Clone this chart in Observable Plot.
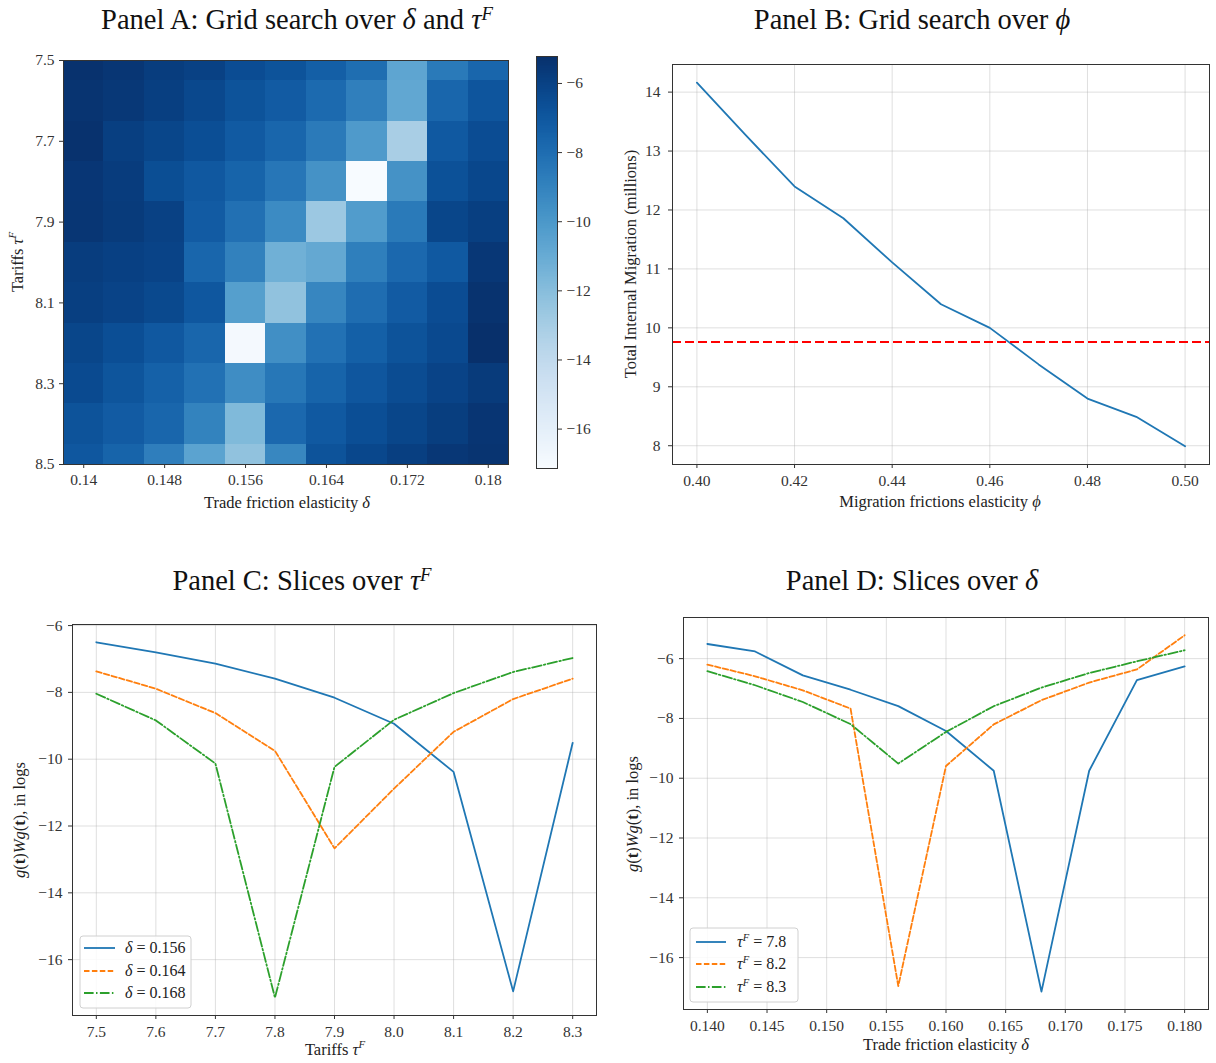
<!DOCTYPE html>
<html><head><meta charset="utf-8">
<script src="https://cdn.jsdelivr.net/npm/d3@7"></script>
<script src="https://cdn.jsdelivr.net/npm/@observablehq/plot@0.6"></script>
<style>
body{margin:0;background:#fff;}
#root{position:relative;width:1216px;height:1063px;overflow:hidden;font-family:"Liberation Serif",serif;}
#root svg{position:absolute;}
</style></head><body><div id="root"></div>
<script>
// ---------- data ----------
const deltaGrid = [0.140,0.144,0.148,0.152,0.156,0.160,0.164,0.168,0.172,0.176,0.180];
const tauGrid = [7.5,7.6,7.7,7.8,7.9,8.0,8.1,8.2,8.3,8.4,8.5];
const row7_5 = [-5.30,-5.50,-5.80,-6.00,-6.50,-6.80,-7.37,-8.04,-10.70,-8.60,-7.70];
const row7_6 = [-5.40,-5.60,-5.90,-6.30,-6.80,-7.20,-7.89,-8.84,-10.80,-7.70,-6.90];
const row7_7 = [-5.30,-5.90,-6.20,-6.60,-7.14,-7.70,-8.62,-10.13,-13.10,-7.10,-6.50];
const row7_8 = [-5.51,-5.76,-6.56,-7.04,-7.59,-8.42,-9.75,-17.14,-9.75,-6.72,-6.26];
const row7_9 = [-5.50,-5.70,-6.00,-7.20,-8.16,-9.40,-12.67,-10.23,-8.60,-6.20,-5.90];
const row8_0 = [-5.80,-5.95,-6.10,-7.70,-8.94,-11.30,-10.88,-8.82,-7.80,-7.10,-5.55];
const row8_1 = [-5.90,-6.10,-6.35,-7.00,-10.38,-12.30,-9.18,-8.02,-7.20,-6.50,-5.35];
const row8_2 = [-6.20,-6.59,-7.06,-7.67,-16.95,-9.59,-8.20,-7.39,-6.80,-6.36,-5.22];
const row8_3 = [-6.42,-6.89,-7.45,-8.19,-9.51,-8.45,-7.59,-6.97,-6.48,-6.09,-5.72];
const row8_4 = [-6.80,-7.20,-7.70,-9.00,-11.80,-7.80,-7.10,-6.60,-6.20,-5.85,-5.45];
const row8_5 = [-7.00,-7.60,-8.80,-10.60,-12.30,-9.20,-6.80,-6.25,-5.90,-5.55,-5.40];
const gridRows = [row7_5,row7_6,row7_7,row7_8,row7_9,row8_0,row8_1,row8_2,row8_3,row8_4,row8_5];
const xTicksA = [0.14,0.148,0.156,0.164,0.172,0.18];
const yTicksA = [7.5,7.7,7.9,8.1,8.3,8.5];
const colorbarTicks = [-16,-14,-12,-10,-8,-6];

const phiValues = [0.40,0.41,0.42,0.43,0.44,0.45,0.46,0.47,0.48,0.49,0.50];
const migration = [14.16,13.27,12.40,11.86,11.11,10.40,10.00,9.38,8.80,8.49,7.99];
const migrationTarget = 9.76;
const xTicksB = [0.40,0.42,0.44,0.46,0.48,0.50];
const yTicksB = [8,9,10,11,12,13,14];

const tauSlice = [7.5,7.6,7.7,7.8,7.9,8.0,8.1,8.2,8.3];
const deltaSlices = [0.156,0.164,0.168];
const tauSlices = [7.8,8.2,8.3];
const yTicksCD = [-16,-14,-12,-10,-8,-6];
const xTicksD = [0.140,0.145,0.150,0.155,0.160,0.165,0.170,0.175,0.180];
const seriesColors = ["#1f77b4","#ff7f0e","#2ca02c"];
const seriesDash = [null,"5.5,2.4","9.6,2.4,1.5,2.4"];

// ---------- helpers ----------
const fmtMinus = d => (d < 0 ? "\u2212" : "") + Math.abs(d);
const pad = e => [e[0] - 0.05*(e[1]-e[0]), e[1] + 0.05*(e[1]-e[0])];
const near = (a,b) => Math.abs(a-b) < 1e-9;
const baseStyle = {fontFamily:'"Liberation Serif", serif', fontSize:"15.5px", color:"#333", background:"transparent", overflow:"visible"};
const gridStyle = {stroke:"#b0b0b0", strokeOpacity:0.4, strokeWidth:1};
const root = document.getElementById("root");
function place(svg, left, top){ svg.style.left = left+"px"; svg.style.top = top+"px"; root.appendChild(svg); }

// ---------- Panel A ----------
const cells = tauGrid.flatMap((tau,i) => deltaGrid.map((delta,j) => ({tau, delta, value: gridRows[i][j]})));
const hx = (deltaGrid[1]-deltaGrid[0])/2, hy = (tauGrid[1]-tauGrid[0])/2;
const vExt = d3.extent(cells, d => d.value);
const colorOpt = {type:"linear", scheme:"blues", domain: vExt};
const plotA = Plot.plot({
  width:520, height:470, marginLeft:63, marginRight:12, marginTop:20, marginBottom:46,
  style: baseStyle,
  x:{domain:[deltaGrid[0]-hx, deltaGrid[deltaGrid.length-1]+hx]},
  y:{domain:[tauGrid[0], tauGrid[tauGrid.length-1]], reverse:true, clamp:true},
  color: colorOpt,
  marks:[
    Plot.rect(cells,{x1:d=>d.delta-hx, x2:d=>d.delta+hx, y1:d=>d.tau-hy, y2:d=>d.tau+hy, fill:"value", shapeRendering:"crispEdges"}),
    Plot.frame({stroke:"#333"}),
    Plot.axisX({ticks:xTicksA, tickFormat:d=>String(+d.toFixed(3)), tickSize:4, tickPadding:5, label:null}),
    Plot.axisY({ticks:yTicksA, tickFormat:d=>d.toFixed(1), tickSize:4, tickPadding:5, label:null})
  ]
});
place(plotA, 0, 40);

const rampN = 240;
const ramp = d3.range(rampN).map(i => ({v0: vExt[0]+(vExt[1]-vExt[0])*i/rampN, v1: vExt[0]+(vExt[1]-vExt[0])*(i+1)/rampN}));
const plotCB = Plot.plot({
  width:80, height:470, marginLeft:16, marginRight:43, marginTop:16, marginBottom:42,
  style: baseStyle,
  x:{domain:[0,1], axis:null}, y:{domain:vExt}, color: colorOpt,
  marks:[
    Plot.rect(ramp,{x1:0, x2:1, y1:"v0", y2:"v1", fill:d=>(d.v0+d.v1)/2, shapeRendering:"crispEdges"}),
    Plot.frame({stroke:"#333"}),
    Plot.axisY({anchor:"right", ticks:colorbarTicks, tickFormat:fmtMinus, tickSize:4, tickPadding:5, label:null})
  ]
});
place(plotCB, 520, 40);

// ---------- Panel B ----------
const dataB = phiValues.map((p,i)=>({phi:p, m:migration[i]}));
const plotB = Plot.plot({
  width:616, height:480, marginLeft:72, marginRight:7, marginTop:24, marginBottom:56,
  style: baseStyle,
  x:{domain:pad(d3.extent(phiValues))}, y:{domain:pad(d3.extent(migration))},
  marks:[
    Plot.gridX(xTicksB, gridStyle),
    Plot.gridY(yTicksB, gridStyle),
    Plot.line(dataB,{x:"phi", y:"m", stroke:seriesColors[0], strokeWidth:1.8}),
    Plot.ruleY([migrationTarget],{stroke:"red", strokeWidth:1.8, strokeDasharray:"9,4"}),
    Plot.frame({stroke:"#333"}),
    Plot.axisX({ticks:xTicksB, tickFormat:d=>d.toFixed(2), tickSize:4, tickPadding:6, label:null}),
    Plot.axisY({ticks:yTicksB, tickFormat:fmtMinus, tickSize:4, tickPadding:8, label:null})
  ]
});
place(plotB, 600, 40);

// ---------- Panel C ----------
const dataC = deltaSlices.flatMap((dl,k) => {
  const col = deltaGrid.findIndex(v => near(v, dl));
  return tauSlice.map((tau,i) => ({tau, value: gridRows[i][col], k}));
});
const plotC = Plot.plot({
  width:610, height:463, marginLeft:72, marginRight:14, marginTop:24, marginBottom:48,
  style: baseStyle,
  x:{domain:pad(d3.extent(tauSlice))}, y:{domain:pad(d3.extent(dataC, d=>d.value))},
  marks:[
    Plot.gridX(tauSlice, gridStyle),
    Plot.gridY(yTicksCD, gridStyle),
    ...deltaSlices.map((dl,k) => Plot.line(dataC.filter(d=>d.k===k),{x:"tau", y:"value", stroke:seriesColors[k], strokeWidth:1.8, strokeDasharray:seriesDash[k]})),
    Plot.frame({stroke:"#333"}),
    Plot.axisX({ticks:tauSlice, tickFormat:d=>d.toFixed(1), tickSize:4, tickPadding:6, label:null}),
    Plot.axisY({ticks:yTicksCD, tickFormat:fmtMinus, tickSize:4, tickPadding:6, label:null})
  ]
});
place(plotC, 0, 600);

// ---------- Panel D ----------
const dataD = tauSlices.flatMap((tf,k) => {
  const row = tauGrid.findIndex(v => near(v, tf));
  return deltaGrid.map((delta,j) => ({delta, value: gridRows[row][j], k}));
});
const plotD = Plot.plot({
  width:606, height:463, marginLeft:73, marginRight:8, marginTop:17, marginBottom:54,
  style: baseStyle,
  x:{domain:pad(d3.extent(deltaGrid))}, y:{domain:pad(d3.extent(dataD, d=>d.value))},
  marks:[
    Plot.gridX(xTicksD, gridStyle),
    Plot.gridY(yTicksCD, gridStyle),
    ...tauSlices.map((tf,k) => Plot.line(dataD.filter(d=>d.k===k),{x:"delta", y:"value", stroke:seriesColors[k], strokeWidth:1.8, strokeDasharray:seriesDash[k]})),
    Plot.frame({stroke:"#333"}),
    Plot.axisX({ticks:xTicksD, tickFormat:d=>d.toFixed(3), tickSize:4, tickPadding:6, label:null}),
    Plot.axisY({ticks:yTicksCD, tickFormat:fmtMinus, tickSize:4, tickPadding:6, label:null})
  ]
});
place(plotD, 610, 600);

// ---------- titles, axis labels, legends ----------
const I = s => `<tspan font-style="italic">${s}</tspan>`;
const B = s => `<tspan font-weight="bold">${s}</tspan>`;
const tauF = (sz, k=0.4) => `${I("τ")}<tspan dy="${-sz*k}" font-size="${sz*0.66}" font-style="italic">F</tspan>`;
const gLabel = `${I("g")}(${B("t")})${I("W")}${I("g")}(${B("t")}), in logs`;
const LS = 16; // legend font size
function legend(x, y, w, h, x0, x1, tx, ys, labels){
  let s = `<rect x="${x}" y="${y}" width="${w}" height="${h}" rx="3" fill="#fff" fill-opacity="0.85" stroke="#d0d0d0"/>`;
  labels.forEach((lab,k) => {
    s += `<line x1="${x0}" x2="${x1}" y1="${ys[k]}" y2="${ys[k]}" stroke="${seriesColors[k]}" stroke-width="1.8" ${seriesDash[k]?`stroke-dasharray="${seriesDash[k]}"`:""}/>`;
    s += `<text x="${tx}" y="${ys[k]+5}" font-size="${LS}" fill="#222">${lab}</text>`;
  });
  return s;
}
const TS = 28.5, AS = 16.5;
const ov = `
<svg width="1216" height="1063" xmlns="http://www.w3.org/2000/svg" style="left:0;top:0;font-family:'Liberation Serif',serif;pointer-events:none">
 <g font-size="${TS}" fill="#111" text-anchor="middle">
  <text x="297" y="29">Panel A: Grid search over ${I("δ")} and ${tauF(TS,0.32)}</text>
  <text x="912" y="29">Panel B: Grid search over ${I("ϕ")}</text>
  <text x="302" y="590">Panel C: Slices over ${tauF(TS,0.32)}</text>
  <text x="912" y="590">Panel D: Slices over ${I("δ")}</text>
 </g>
 <g font-size="${AS}" fill="#222" text-anchor="middle">
  <text x="287" y="508">Trade friction elasticity ${I("δ")}</text>
  <text transform="translate(23,262) rotate(-90)">Tariffs ${tauF(AS)}</text>
  <text x="940" y="507">Migration frictions elasticity ${I("ϕ")}</text>
  <text transform="translate(636,264) rotate(-90)">Total Internal Migration (millions)</text>
  <text x="335" y="1055">Tariffs ${tauF(AS)}</text>
  <text transform="translate(25,820) rotate(-90)">${gLabel}</text>
  <text x="946" y="1050">Trade friction elasticity ${I("δ")}</text>
  <text transform="translate(638,814) rotate(-90)">${gLabel}</text>
 </g>
 ${legend(80,936,111,72,84,115,125,[948,971,993], deltaSlices.map(v=>`${I("δ")} = ${v.toFixed(3)}`))}
 ${legend(690,928,108,74,696,726,737,[942,964,987], tauSlices.map(v=>`${tauF(LS)}<tspan dy="${LS*0.4}"> = ${v.toFixed(1)}</tspan>`))}
</svg>`;
root.insertAdjacentHTML("beforeend", ov);
</script></body></html>
